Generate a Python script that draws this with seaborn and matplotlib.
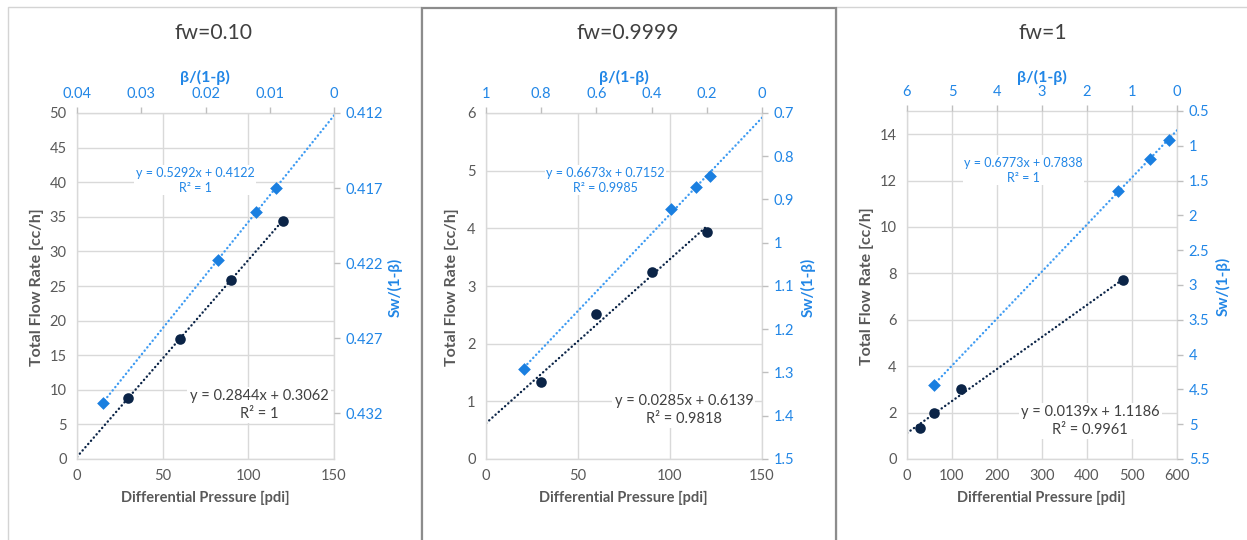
import numpy as np
import matplotlib
matplotlib.use("Agg")
import matplotlib.pyplot as plt
from matplotlib.patches import Rectangle
from matplotlib.ticker import FuncFormatter, MultipleLocator
import seaborn as sns

# ---------------- data ----------------
titles = ["fw=0.10", "fw=0.9999", "fw=1"]

# primary series: Differential Pressure [pdi] vs Total Flow Rate [cc/h]
dp_010 = [30, 60, 90, 120]
q_010 = [8.84, 17.38, 25.90, 34.45]
dp_9999 = [30, 60, 90, 120]
q_9999 = [1.33, 2.51, 3.25, 3.93]
dp_1 = [30, 60, 120, 480]
q_1 = [1.33, 1.97, 3.00, 7.70]

# secondary series: beta/(1-beta) vs Sw/(1-beta)
beta_010 = [0.0360, 0.0181, 0.0121, 0.0091]
sw_010 = [0.4313, 0.4218, 0.4186, 0.4170]
beta_9999 = [0.863, 0.328, 0.239, 0.190]
sw_9999 = [1.291, 0.921, 0.871, 0.846]
beta_1 = [5.41, 1.306, 0.605, 0.185]
sw_1 = [4.437, 1.654, 1.183, 0.913]

dark_eq = ["y = 0.2844x + 0.3062\nR² = 1",
           "y = 0.0285x + 0.6139\nR² = 0.9818",
           "y = 0.0139x + 1.1186\nR² = 0.9961"]
light_eq = ["y = 0.5292x + 0.4122\nR² = 1",
            "y = 0.6673x + 0.7152\nR² = 0.9985",
            "y = 0.6773x + 0.7838\nR² = 1"]

x_label = "Differential Pressure [pdi]"
y_label = "Total Flow Rate [cc/h]"
top_label = "β/(1-β)"
right_label = "Sw/(1-β)"

# ---------------- style ----------------
sns.set_style("white")
plt.rcParams["font.family"] = ["Lato", "DejaVu Sans"]

NAVY = "#0B2447"
BLUE = "#1A7FE0"
BLUE_LINE = "#3E9BF2"
BLUE_TXT = "#2186E6"
GREY_TXT = "#595959"
GRID = "#D9D9D9"

W, H = 1247, 540
fig = plt.figure(figsize=(W / 100, H / 100), dpi=100)
fig.patch.set_facecolor("white")

def fx(px):
    return px / W

def fy(py):
    return 1 - py / H

# panel frames
fig.add_artist(Rectangle((fx(7.5), -0.1), fx(421.5) - fx(7.5), fy(7.5) + 0.1,
                         transform=fig.transFigure, fill=False, ec="#D4D4D4", lw=1))
fig.add_artist(Rectangle((fx(836), -0.1), fx(1260) - fx(836), fy(7.5) + 0.1,
                         transform=fig.transFigure, fill=False, ec="#D4D4D4", lw=1))
fig.add_artist(Rectangle((fx(422), -0.1), fx(835.5) - fx(422), fy(8) + 0.1,
                         transform=fig.transFigure, fill=False, ec="#8C8C8C", lw=1.6))

# layout per panel (pixels): left, right, top, bottom
boxes = [(77, 334, 113, 459), (486, 762, 113, 459), (907, 1177, 111, 459)]
title_x = [213, 628, 1043]
prim = [(dp_010, q_010), (dp_9999, q_9999), (dp_1, q_1)]
sec = [(beta_010, sw_010), (beta_9999, sw_9999), (beta_1, sw_1)]
xlims = [(0, 150), (0, 150), (0, 600)]
xsteps = [50, 50, 100]
ylims = [(0, 50), (0, 6), (0, 15)]
ysteps = [5, 1, 2]
txlims = [(0.04, 0.0), (1.0, 0.0), (6.0, 0.0)]
txsteps = [0.01, 0.2, 1.0]
tylims = [(0.43505, 0.412), (1.5, 0.7), (5.5, 0.5)]
tyticks = [np.arange(0.412, 0.4330, 0.005), np.arange(0.7, 1.5001, 0.1), np.arange(0.5, 5.5001, 0.5)]
light_pos = [(0.459, 0.806), (0.434, 0.806), (0.430, 0.830)]
dark_pos = [(0.708, 0.156), (0.717, 0.142), (0.678, 0.109)]
ylab_x = [-0.156, -0.123, -0.149]
rlab_x = [1.237, 1.167, 1.170]

fmt = FuncFormatter(lambda v, p: f"{round(v, 6):g}")

for i in range(3):
    l, r, t, b = boxes[i]
    pos = [fx(l), fy(b), fx(r) - fx(l), fy(t) - fy(b)]
    ax = fig.add_axes(pos)
    ax2 = fig.add_axes(pos, frameon=False, label=f"sec{i}")
    ax.set_zorder(1)
    ax2.set_zorder(2)
    ax2.patch.set_visible(False)

    # primary
    ax.set_xlim(*xlims[i])
    ax.set_ylim(*ylims[i])
    ax.xaxis.set_major_locator(MultipleLocator(xsteps[i]))
    ax.yaxis.set_major_locator(MultipleLocator(ysteps[i]))
    ax.grid(True, color=GRID, lw=1)
    ax.set_axisbelow(True)
    for s in ax.spines.values():
        s.set_color(GRID)
        s.set_linewidth(1)
    ax.tick_params(length=0, labelsize=10.5, labelcolor=GREY_TXT, pad=7.5)

    xd, yd = prim[i]
    k, c = np.polyfit(xd, yd, 1)
    xs = np.array([0, max(xd)])
    ax.plot(xs, k * xs + c, color=NAVY, lw=1.7, ls=(0, (0.1, 1.7)),
            dash_capstyle="round", zorder=2)
    sns.scatterplot(x=xd, y=yd, ax=ax, marker="o", s=58, color=NAVY,
                    edgecolor=NAVY, linewidth=0, zorder=3)

    # secondary
    ax2.xaxis.tick_top()
    ax2.yaxis.tick_right()
    ax2.xaxis.set_label_position("top")
    ax2.yaxis.set_label_position("right")
    ax2.set_xlim(*txlims[i])
    ax2.set_ylim(*tylims[i])
    ax2.xaxis.set_major_locator(MultipleLocator(txsteps[i]))
    ax2.set_yticks(tyticks[i])
    ax2.xaxis.set_major_formatter(fmt)
    ax2.yaxis.set_major_formatter(fmt)
    ax2.tick_params(length=4, color="#BFBFBF", width=1, labelsize=10.5,
                    labelcolor=BLUE_TXT, pad=4.5)
    ax2.set_xlim(*txlims[i])

    bx, sy = sec[i]
    k2, c2 = np.polyfit(bx, sy, 1)
    xs2 = np.array([0, max(bx)])
    ax2.plot(xs2, k2 * xs2 + c2, color=BLUE_LINE, lw=1.7, ls=(0, (0.1, 1.7)),
             dash_capstyle="round", zorder=2)
    sns.scatterplot(x=bx, y=sy, ax=ax2, marker="D", s=42, color=BLUE,
                    edgecolor=BLUE, linewidth=0, zorder=3)

    # labels
    ax.set_xlabel(x_label, fontsize=10.5, fontweight="bold", color=GREY_TXT)
    ax.set_ylabel(y_label, fontsize=11.5, fontweight="bold", color=GREY_TXT)
    ax2.set_xlabel(top_label, fontsize=11.5, fontweight="bold", color=BLUE_TXT)
    ax2.set_ylabel(right_label, fontsize=11, fontweight="bold", color=BLUE_TXT)
    hpx = b - t
    for lab in (ax.xaxis.label, ax.yaxis.label, ax2.xaxis.label, ax2.yaxis.label):
        lab.set_verticalalignment("center")
        lab.set_horizontalalignment("center")
    ax.xaxis.set_label_coords(0.498, -(498 - b) / hpx)
    ax.yaxis.set_label_coords(ylab_x[i], 0.497)
    ax2.xaxis.set_label_coords(0.498, 1 + (t - 77) / hpx)
    ax2.yaxis.set_label_coords(rlab_x[i], 0.497)

    # equations
    ax2.text(*light_pos[i], light_eq[i], transform=ax2.transAxes, ha="center",
             va="center", ma="center", fontsize=9, color=BLUE_TXT, linespacing=1.3,
             bbox=dict(boxstyle="square,pad=0.1", fc="white", ec="none"), zorder=4)
    ax2.text(*dark_pos[i], dark_eq[i], transform=ax2.transAxes, ha="center",
             va="center", ma="center", fontsize=10.5, color="#404040", linespacing=1.3,
             bbox=dict(boxstyle="square,pad=0.15", fc="white", ec="none"), zorder=4)

    fig.text(fx(title_x[i]), fy(33), titles[i], ha="center", va="center",
             fontsize=15.2, color="#404040")

fig.savefig("out.png", dpi=100, facecolor="white")
